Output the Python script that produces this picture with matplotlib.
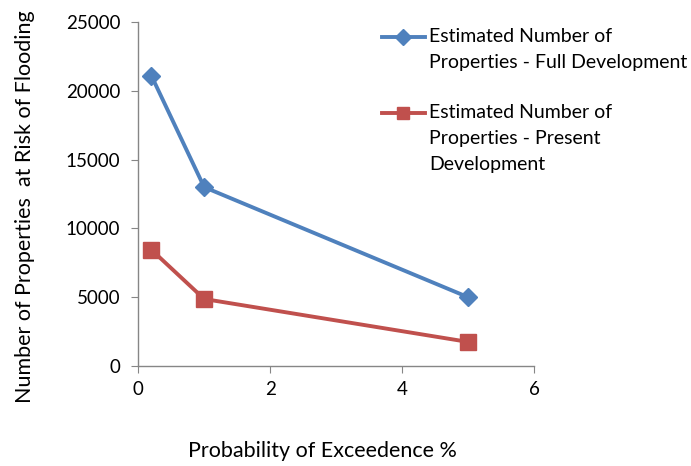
import matplotlib
matplotlib.use("Agg")
import matplotlib.pyplot as plt
from matplotlib.lines import Line2D

plt.rcParams['font.family'] = ['Lato', 'DejaVu Sans']

probability = [0.2, 1, 5]
full_development = [21100, 13000, 5000]
present_development = [8450, 4870, 1750]
series_labels = ["Estimated Number of\nProperties - Full Development",
                 "Estimated Number of\nProperties - Present\nDevelopment"]

blue = "#4F81BD"
red = "#C0504D"
grey = "#868686"

fig = plt.figure(figsize=(6.91, 4.66), dpi=100)
ax = fig.add_axes([0.2, 0.2146, 0.573, 0.738])

ax.plot(probability, full_development, color=blue, lw=2.8, marker="D", ms=9,
        markeredgecolor=blue, markerfacecolor=blue)
ax.plot(probability, present_development, color=red, lw=2.8, marker="s", ms=12,
        markeredgecolor=red, markerfacecolor=red)

ax.set_xlim(0, 6)
ax.set_ylim(0, 25000)
ax.set_xticks([0, 2, 4, 6])
ax.set_yticks(range(0, 25001, 5000))
for s in ["top", "right"]:
    ax.spines[s].set_visible(False)
for s in ["left", "bottom"]:
    ax.spines[s].set_color(grey)
    ax.spines[s].set_linewidth(1)
ax.tick_params(direction="out", length=5, color=grey, labelsize=13.5, pad=6)
ax.tick_params(axis="y", pad=8)

fig.text(0.466, 0.033, "Probability of Exceedence %", ha="center", va="center", fontsize=15.5)
fig.text(0.036, 0.556, "Number of Properties  at Risk of Flooding", ha="center", va="center",
         rotation=90, fontsize=15.5)

# legend drawn by hand so the marker sits on the first line of each label
colors = [blue, red]
markers = ["D", "s"]
sizes = [8, 9]
first_rows = [466 - 37, 466 - 113]   # pixel rows of first label line
row_step = 25.7
for lab, c, m, ms, y0 in zip(series_labels, colors, markers, sizes, first_rows):
    yt = y0 / 466
    fig.add_artist(Line2D([382 / 691, 425 / 691], [yt, yt], transform=fig.transFigure,
                          color=c, lw=2.8))
    fig.add_artist(Line2D([403 / 691], [yt], transform=fig.transFigure, color=c,
                          marker=m, ms=ms, markerfacecolor=c, markeredgecolor=c))
    for i, line in enumerate(lab.split("\n")):
        fig.text(429 / 691, (y0 - i * row_step) / 466, line, ha="left", va="center",
                 fontsize=14)

fig.savefig("out.png", dpi=100)
